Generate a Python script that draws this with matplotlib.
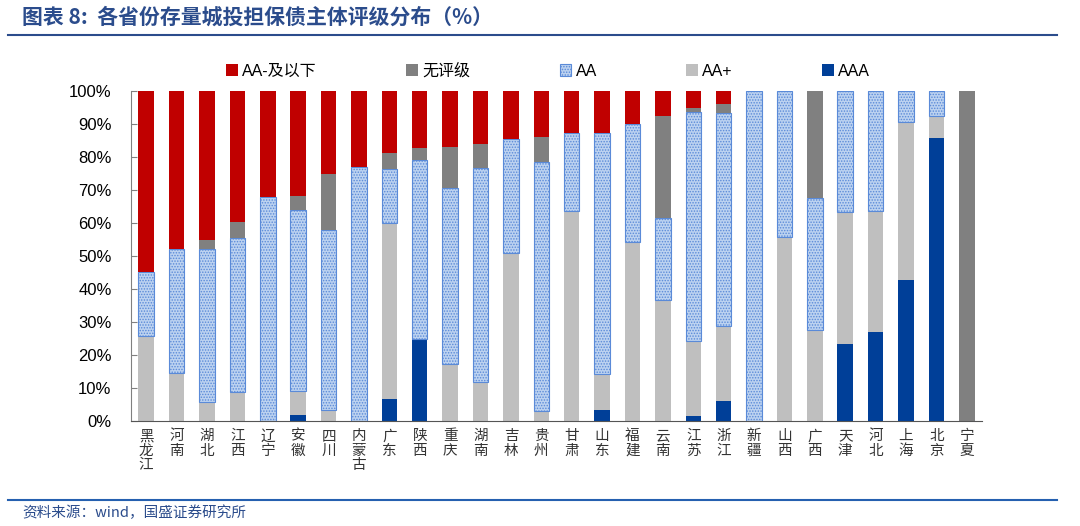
import matplotlib
matplotlib.use("Agg")
import matplotlib.pyplot as plt
from matplotlib.lines import Line2D
import numpy as np

plt.rcParams['font.family'] = ['Liberation Sans', 'Noto Sans CJK SC', 'DejaVu Sans']
plt.rcParams['hatch.linewidth'] = 0.7

provinces = ["黑龙江", "河南", "湖北", "江西", "辽宁", "安徽", "四川", "内蒙古", "广东", "陕西",
             "重庆", "湖南", "吉林", "贵州", "甘肃", "山东", "福建", "云南", "江苏", "浙江",
             "新疆", "山西", "广西", "天津", "河北", "上海", "北京", "宁夏"]

# percentages (stack order bottom -> top: AAA, AA+, AA, 无评级, AA-及以下)
aaa = [0, 0, 0, 0, 0, 1.8, 0, 0, 6.6, 24.8,
       0, 0, 0, 0, 0, 3.3, 0, 0, 1.5, 6.1,
       0, 0, 0, 23.2, 26.9, 42.7, 85.7, 0]
aa_plus = [25.9, 14.4, 5.9, 8.7, 0, 7.3, 3.3, 0, 53.3, 0,
           17.2, 11.9, 50.8, 3.1, 63.6, 10.8, 54.1, 36.7, 22.7, 22.8,
           0, 55.8, 27.6, 40.0, 36.7, 48.0, 6.8, 0]
aa = [19.4, 37.6, 46.2, 46.9, 68.0, 54.8, 54.6, 77.1, 16.4, 54.3,
      53.3, 64.7, 34.7, 75.3, 23.6, 73.3, 35.9, 24.9, 69.3, 64.5,
      100, 44.2, 39.9, 36.8, 36.4, 9.3, 7.5, 0]
unrated = [0, 0, 2.6, 4.6, 0, 4.4, 16.9, 0, 4.8, 3.5,
           12.6, 7.3, 0, 7.8, 0, 0, 0, 30.8, 1.5, 2.6,
           0, 0, 32.5, 0, 0, 0, 0, 100]
aa_minus = [54.7, 48.0, 45.3, 39.8, 32.0, 31.7, 25.2, 22.9, 18.9, 17.4,
            16.9, 16.1, 14.5, 13.8, 12.8, 12.6, 10.0, 7.6, 5.0, 4.0,
            0, 0, 0, 0, 0, 0, 0, 0]

fig = plt.figure(figsize=(10.8, 5.26), dpi=100)
ax = fig.add_axes([131/1080, 1-421/526, (982-131)/1080, (421-91)/526])

x = np.arange(len(provinces))
w = 0.51
b = np.zeros(len(provinces))
series = [
    ("AAA", aaa, dict(color="#003F98")),
    ("AA+", aa_plus, dict(color="#BFBFBF")),
    ("AA", aa, dict(facecolor="#BCD2F0", edgecolor="#5A8AD8", hatch="......", linewidth=0.8)),
    ("无评级", unrated, dict(color="#808080")),
    ("AA-及以下", aa_minus, dict(color="#C00000")),
]
handles = {}
for name, vals, kw in series:
    v = np.array(vals) / 100.0
    bars = ax.bar(x, v, w, bottom=b, **kw)
    handles[name] = bars
    b += v

ax.set_xlim(-0.5, len(provinces) - 0.5)
ax.set_ylim(0, 1)
ticks = np.arange(0, 1.01, 0.1)
ax.set_yticks(ticks)
ax.set_yticklabels([f"{int(round(t*100))}%" for t in ticks], fontsize=12)
ax.set_xticks(x)
ax.set_xticklabels(["\n".join(p) for p in provinces], family=['Noto Sans CJK SC'],
                   fontsize=10.5, color="#333333", linespacing=1.05, va="top")
ax.tick_params(axis='x', length=0, pad=6)
ax.tick_params(axis='y', direction='in', length=4, color="#808080", pad=14)
for s in ["top", "right"]:
    ax.spines[s].set_visible(False)
ax.spines["left"].set_color("#808080")
ax.spines["bottom"].set_color("#555555")

order = ["AA-及以下", "无评级", "AA", "AA+", "AAA"]
fig.legend([handles[k] for k in order], order, loc="center",
           bbox_to_anchor=(548/1080, 1-71/526), ncol=5, frameon=False,
           handlelength=0.75, handleheight=0.75,
           handletextpad=0.25, columnspacing=5.6,
           prop={'family': ['Liberation Sans', 'Noto Sans CJK SC'], 'size': 11.5})

title_color = "#2B4C8C"
fig.text(22/1080, 1-17/526, "图表 8:  各省份存量城投担保债主体评级分布（%）",
         family=['Noto Sans CJK SC'], fontsize=15, color=title_color,
         style='italic', weight='bold', va='center', ha='left')
fig.add_artist(Line2D([8/1080, 1057/1080], [1-35/526, 1-35/526], color="#2B4C8C", lw=1.5))
fig.add_artist(Line2D([8/1080, 1057/1080], [1-500/526, 1-500/526], color="#2560B0", lw=1.5))
fig.text(22/1080, 1-513/526, "资料来源：wind，国盛证券研究所",
         family=['Noto Sans CJK SC'], fontsize=10.5, color="#2B4C8C",
         style='italic', va='center', ha='left')

fig.savefig("out.png", dpi=100)
